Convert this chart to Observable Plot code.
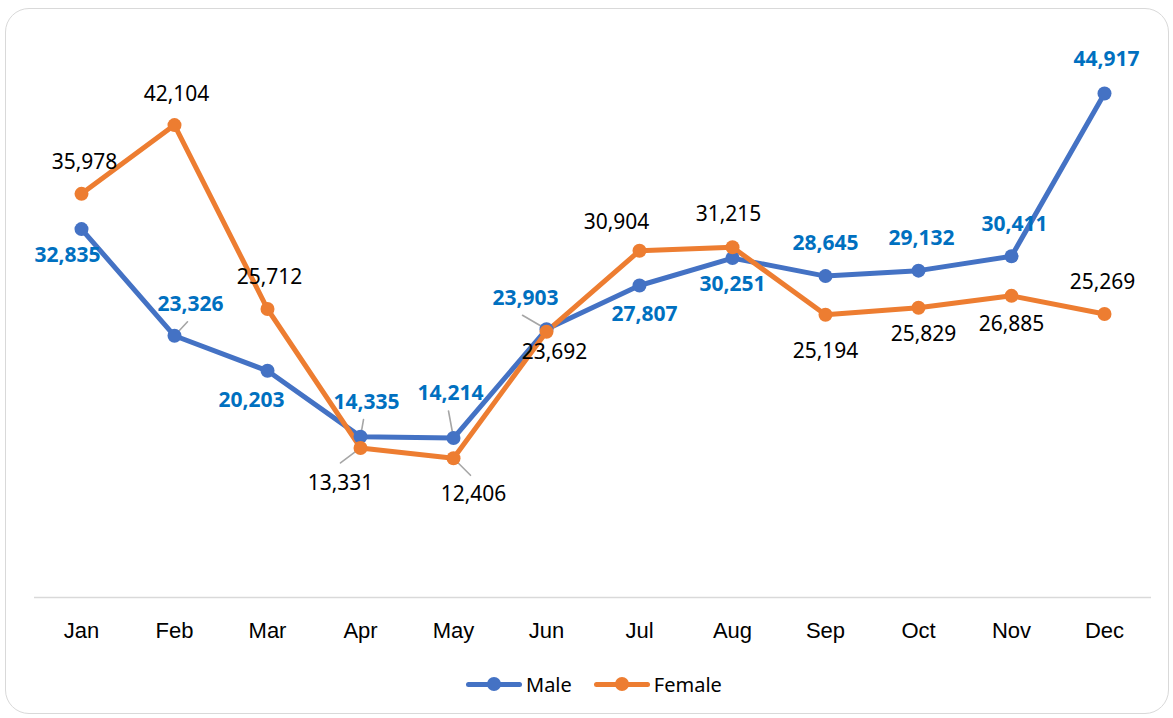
<!DOCTYPE html>
<html>
<head>
<meta charset="utf-8">
<script src="https://cdn.jsdelivr.net/npm/d3@7"></script>
<script src="https://cdn.jsdelivr.net/npm/@observablehq/plot@0.6"></script>
<style>
  html, body { margin: 0; padding: 0; background: #fff; }
  #wrap { position: relative; width: 1173px; height: 718px; overflow: hidden; }
  #frame { position: absolute; left: 5px; top: 8px; width: 1164px; height: 706px;
           border: 1.5px solid #d9d9d9; border-radius: 24px; box-sizing: border-box; }
  #chart { position: absolute; left: 0; top: 0; }
  #legend { position: absolute; left: 466px; top: 672px; height: 24px; display: flex; align-items: center;
            font-family: "Noto Sans", sans-serif; font-size: 20px; color: #000; }
  .item { display: flex; align-items: center; margin-right: 22px; }
  .sw { position: relative; width: 56px; height: 24px; margin-right: 4px; }
  .sw .ln { position: absolute; left: 0; top: 9.5px; width: 56px; height: 5px; border-radius: 2.5px; }
  .sw .dt { position: absolute; left: 21px; top: 5px; width: 14px; height: 14px; border-radius: 50%; }
</style>
</head>
<body>
<div id="wrap">
  <div id="frame"></div>
  <div id="chart"></div>
  <div id="legend"></div>
</div>
<script>
// ---- data ----
const months = ["Jan","Feb","Mar","Apr","May","Jun","Jul","Aug","Sep","Oct","Nov","Dec"];
const male   = [32835, 23326, 20203, 14335, 14214, 23903, 27807, 30251, 28645, 29132, 30411, 44917];
const female = [35978, 42104, 25712, 13331, 12406, 23692, 30904, 31215, 25194, 25829, 26885, 25269];
const seriesNames = ["Male", "Female"];

// ---- layout (label placement, in pixels) ----
const maleLabelOffset = [[-14,26],[16,-32],[-16,29],[6,-34],[-3,-45],[-21,-31],[5,29],[0,26],[0,-33],[3,-32],[3,-32],[2,-34]];
const femaleLabelOffset = [[3,-32],[2,-31],[2,-32],[-20,35],[20,36],[8,21],[-23,-28],[-4,-33],[0,36],[5,27],[0,28],[-2,-32]];
// leader lines: [monthIndex, endDx, endDy]
const maleLeaders = [[1,13,-14],[3,3,-17],[4,-5,-27],[5,-24,-14]];
const femaleLeaders = [[3,-20,15],[4,17,17]];

const colors = {Male: "#4472C4", Female: "#ED7D31"};
const fmt = d3.format(",");

const rows = [];
months.forEach((m, i) => {
  rows.push({month: m, series: "Male", value: male[i], off: maleLabelOffset[i]});
  rows.push({month: m, series: "Female", value: female[i], off: femaleLabelOffset[i]});
});
const leaders = [
  ...maleLeaders.map(([i, dx, dy]) => ({month: months[i], value: male[i], dx, dy})),
  ...femaleLeaders.map(([i, dx, dy]) => ({month: months[i], value: female[i], dx, dy}))
].map(d => ({...d, length: Math.hypot(d.dx, d.dy), rotate: Math.atan2(d.dx, -d.dy) * 180 / Math.PI}));

const segShape = { draw(context, l) { context.moveTo(0, 0); context.lineTo(0, -l); } };

const labelMarks = rows.map(r => Plot.text([r], {
  x: "month", y: "value", text: d => fmt(d.value),
  dx: r.off[0], dy: r.off[1],
  textAnchor: "middle", lineAnchor: "middle",
  fontFamily: "Noto Sans", fontSize: 21,
  fontWeight: r.series === "Male" ? "bold" : "normal",
  fill: r.series === "Male" ? "#0070C0" : "#000000"
}));

const chart = Plot.plot({
  width: 1173,
  height: 660,
  marginTop: 36,
  marginBottom: 63,
  marginLeft: 34,
  marginRight: 22,
  style: {background: "transparent", color: "#000", overflow: "visible"},
  x: {type: "point", domain: months, padding: 0.5, label: null},
  y: {domain: [0, 50000], axis: null},
  length: {type: "identity"},
  marks: [
    Plot.ruleY([0], {stroke: "#d9d9d9", strokeWidth: 1.5}),
    Plot.axisX({tickSize: 0, tickPadding: 25, fontSize: 22, fontFamily: "Liberation Sans", label: null}),
    ...seriesNames.map(s => Plot.lineY(rows.filter(d => d.series === s), {
      x: "month", y: "value", stroke: colors[s], strokeWidth: 5, strokeLinejoin: "round", strokeLinecap: "round"
    })),
    Plot.vector(leaders, {x: "month", y: "value", length: "length", rotate: "rotate",
      anchor: "start", shape: segShape, stroke: "#a6a6a6", strokeWidth: 1.6}),
    ...seriesNames.map(s => Plot.dot(rows.filter(d => d.series === s), {
      x: "month", y: "value", r: 7, fill: colors[s], stroke: null
    })),
    ...labelMarks
  ]
});
document.getElementById("chart").appendChild(chart);

const legend = document.getElementById("legend");
seriesNames.forEach(s => {
  const it = document.createElement("div");
  it.className = "item";
  it.innerHTML = `<div class="sw"><div class="ln" style="background:${colors[s]}"></div><div class="dt" style="background:${colors[s]}"></div></div><span>${s}</span>`;
  legend.appendChild(it);
});
</script>
</body>
</html>
